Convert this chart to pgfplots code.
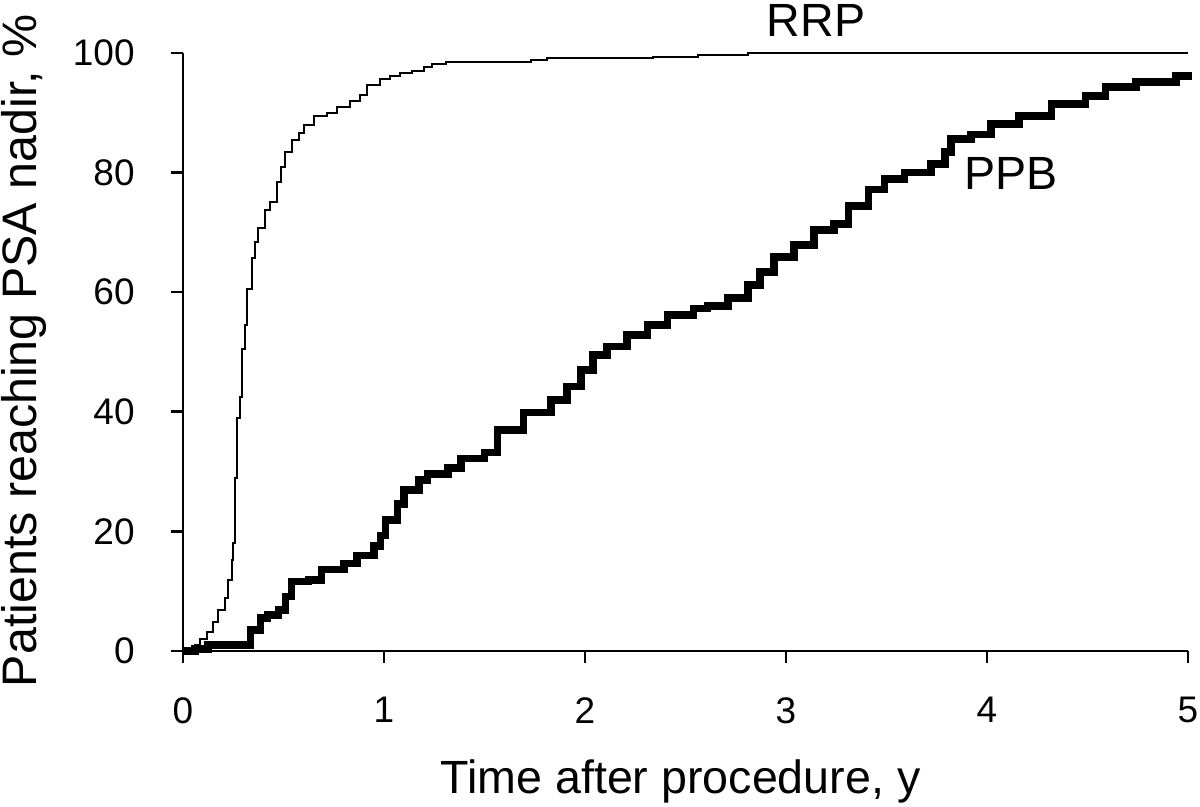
\documentclass[border=0pt]{standalone}
\usepackage{pgfplots}
\pgfplotsset{compat=1.18}
\usepackage{fontspec}
\setmainfont{Liberation Sans}
\begin{document}
\begin{tikzpicture}
\useasboundingbox (-91.5pt,-78pt) rectangle (508.5pt,325.5pt);
\begin{axis}[
  scale only axis,
  width=502.5pt, height=299pt,
  at={(0,0)}, anchor=south west,
  xmin=0, xmax=5, ymin=0, ymax=100,
  axis lines=left,
  axis line style={-, line width=1.3pt},
  every tick/.style={black, line width=1.3pt},
  tick align=outside,
  major tick length=6pt,
  xtick={0,1,2,3,4,5},
  ytick={0,20,40,60,80,100},
  /pgf/number format/assume math mode=true,
  tick label style={font=\fontsize{18.5}{20}\selectfont},
  yticklabel style={anchor=east, inner sep=0pt, xshift=-18pt},
  xticklabel style={anchor=north, inner sep=0pt, yshift=-17pt},
  xlabel={Time after procedure, y},
  ylabel={Patients reaching PSA nadir, \%},
  xlabel style={font=\fontsize{23.3}{26}\selectfont, at={(axis description cs:0.495,-0.2375)}, anchor=base},
  ylabel style={font=\fontsize{24.2}{27}\selectfont, at={(axis description cs:-0.1453,0.502)}, anchor=base},
  clip=false,
]
% RRP
\addplot[const plot, black, line width=1pt] coordinates {
(0,0) (0.06,1) (0.085,2) (0.118,3.2) (0.15,4.9) (0.176,6.9) (0.21,8.9)
(0.226,11.9) (0.243,15.2) (0.25,18) (0.258,29) (0.267,39) (0.283,42.5)
(0.292,50.5) (0.308,54.5) (0.32,60.5) (0.342,65.8) (0.358,68.4) (0.375,70.8)
(0.408,73.8) (0.433,75) (0.467,78.4) (0.49,81) (0.508,83.4) (0.54,85.4)
(0.575,86.7) (0.6,88) (0.65,89.4) (0.717,90) (0.767,91) (0.833,92)
(0.883,93) (0.917,94.7) (0.98,95.6) (1.03,96.2) (1.08,96.6) (1.14,97.0)
(1.20,97.6) (1.24,98.2) (1.31,98.5) (1.73,98.8) (1.81,99.1) (2.34,99.4)
(2.56,99.7) (2.81,100) (5,100)
};
% PPB
\addplot[const plot, black, line width=3.8pt] coordinates {
(0,0) (0.06,0.3) (0.125,1) (0.2,1) (0.31,1) (0.335,3.5) (0.385,5.5) (0.42,6)
(0.475,6.9) (0.51,9.1) (0.54,11.6) (0.625,11.9) (0.69,13.6) (0.8,14.6)
(0.867,16) (0.95,17.6) (0.983,19.3) (1.008,21.9) (1.067,24.6) (1.1,26.9)
(1.175,28.6) (1.217,29.6) (1.317,30.6) (1.383,32.2) (1.5,33.2) (1.565,37)
(1.695,39.9) (1.83,42) (1.91,44.2) (1.98,47) (2.04,49.5) (2.11,50.9)
(2.21,52.8) (2.31,54.5) (2.41,56.2) (2.54,57.3) (2.61,57.7) (2.71,59)
(2.81,61.2) (2.87,63.4) (2.94,65.9) (3.04,67.9) (3.14,70.4) (3.24,71.4)
(3.31,74.4) (3.41,77.2) (3.49,78.9) (3.59,80) (3.72,81.4) (3.79,83.4)
(3.82,85.6) (3.92,86.4) (4.02,88.1) (4.16,89.5) (4.32,91.5) (4.49,92.8)
(4.59,94.3) (4.74,95.1) (4.94,96.2) (5.0,96.8)
};
\node[anchor=base, font=\fontsize{23.3}{26}\selectfont] at (axis cs:3.149,102.8) {RRP};
\node[anchor=base, font=\fontsize{23.3}{26}\selectfont] at (axis cs:4.119,77.1) {PPB};
\end{axis}
\end{tikzpicture}
\end{document}
